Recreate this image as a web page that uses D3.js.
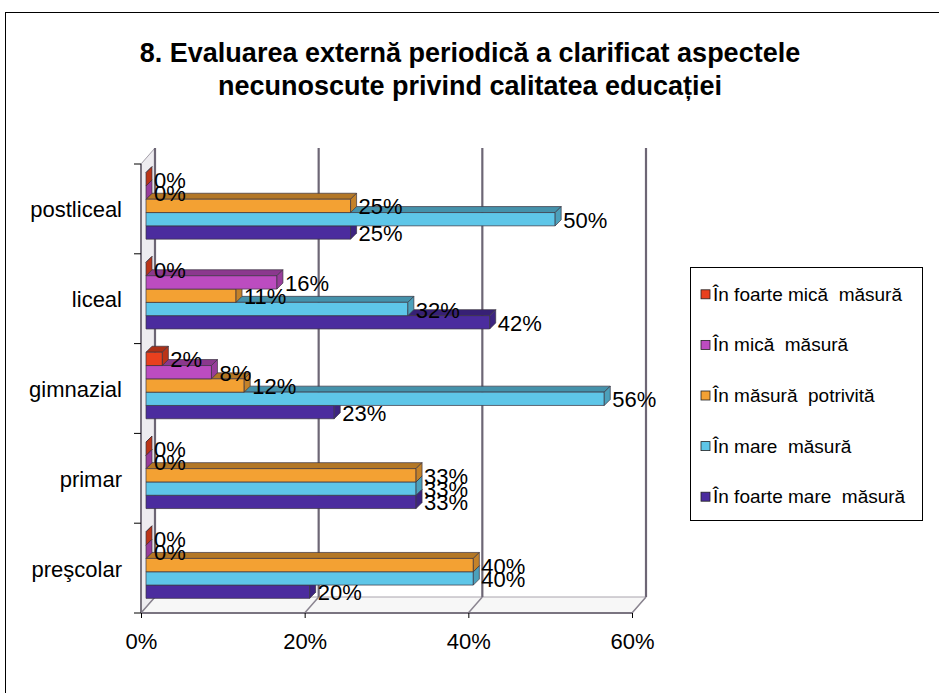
<!DOCTYPE html>
<html>
<head>
<meta charset="utf-8">
<script src="https://cdn.jsdelivr.net/npm/d3@7"></script>
<style>
  html, body { margin: 0; padding: 0; background: #fff; }
  svg { display: block; font-family: "Liberation Sans", Arial, sans-serif; }
  .legend text { white-space: pre; }
</style>
</head>
<body>
<svg id="chart" width="939" height="693"></svg>
<script>
// Categories (top to bottom on the vertical axis)
const categories = ["postliceal", "liceal", "gimnazial", "primar", "preşcolar"];

// Answer levels, in legend order
const seriesNames = [
  "În foarte mică  măsură",
  "În mică  măsură",
  "În măsură  potrivită",
  "În mare  măsură",
  "În foarte mare  măsură"
];

// Percent values per answer level, in category order
const foarteMica = [0, 0, 2, 0, 0];
const mica       = [0, 16, 8, 0, 0];
const potrivita  = [25, 11, 12, 33, 40];
const mare       = [50, 32, 56, 33, 40];
const foarteMare = [25, 42, 23, 33, 20];

const xTicks = [0, 20, 40, 60];

const titleLines = [
  "8. Evaluarea externă periodică a clarificat aspectele",
  "necunoscute privind calitatea educației"
];

const seriesValues = [foarteMica, mica, potrivita, mare, foarteMare];
const frontColors = ["#E8401E", "#BC4CC0", "#F3A133", "#5EC6E8", "#4B2C9E"];

const svg = d3.select("#chart");

// outer chart border
svg.append("rect")
  .attr("x", 5.5).attr("y", 12.5)
  .attr("width", 960).attr("height", 700)
  .attr("fill", "#fff").attr("stroke", "#000").attr("stroke-width", 1);

// title
svg.append("g").selectAll("text").data(titleLines).join("text")
  .attr("x", 470)
  .attr("y", (d, i) => 53 + i * 33)
  .attr("text-anchor", "middle")
  .attr("dominant-baseline", "central")
  .attr("font-size", 27)
  .attr("font-weight", "bold")
  .text(d => d);

// plot geometry
const pLeft = 141, pRight = 632, pTop = 164, pBottom = 613;
const wallDX = 14, wallDY = -16;   // depth of the 3D box
const barDX = 5, barDY = -3;       // bars sit slightly behind the front plane
const faceD = 6;                   // depth of each bar's top/end face

const x = d3.scaleLinear().domain([0, 60]).range([pLeft, pRight]);
const y = d3.scaleBand().domain(categories).range([pTop, pBottom]);
const yInner = d3.scaleBand().domain(seriesNames)
  .range([0, y.bandwidth()]).paddingOuter(0.875);

const gridColor = "#6d6675";

// left wall
svg.append("path")
  .attr("d", `M${pLeft},${pTop}L${pLeft + wallDX},${pTop + wallDY}L${pLeft + wallDX},${pBottom + wallDY}L${pLeft},${pBottom}Z`)
  .attr("fill", "#eeecf0").attr("stroke", "#a39ea8").attr("stroke-width", 1);

// floor
svg.append("path")
  .attr("d", `M${pLeft},${pBottom}L${pRight},${pBottom}L${pRight + wallDX},${pBottom + wallDY}L${pLeft + wallDX},${pBottom + wallDY}Z`)
  .attr("fill", "#f7f7f7").attr("stroke", "#a9a4ad").attr("stroke-width", 1);

// gridlines on the back wall and their floor diagonals
const grid = svg.append("g");
grid.selectAll("line.v").data(xTicks).join("line")
  .attr("class", "v")
  .attr("x1", d => x(d) + wallDX).attr("x2", d => x(d) + wallDX)
  .attr("y1", pTop + wallDY).attr("y2", pBottom + wallDY)
  .attr("stroke", gridColor).attr("stroke-width", 2.2);
grid.selectAll("line.d").data(xTicks).join("line")
  .attr("class", "d")
  .attr("x1", d => x(d) + wallDX).attr("x2", d => x(d))
  .attr("y1", pBottom + wallDY).attr("y2", pBottom)
  .attr("stroke", "#8a8490").attr("stroke-width", 1.5);

// bars
function shade(c, k) { return d3.color(c).darker(k).formatHex(); }

const bars = svg.append("g");
categories.forEach((cat, ci) => {
  // lower bars first so the bars above cover their top faces
  for (let si = seriesNames.length - 1; si >= 0; si--) {
    const v = seriesValues[si][ci];
    const x0 = x(0) + barDX, x1 = x(v) + barDX;
    const y0 = y(cat) + yInner(seriesNames[si]) + barDY;
    const h = yInner.bandwidth();
    const g = bars.append("g").attr("stroke", "#3a3340").attr("stroke-width", 0.7)
      .attr("stroke-linejoin", "round");
    // top face
    g.append("path")
      .attr("d", `M${x0},${y0}L${x0 + faceD},${y0 - faceD}L${x1 + faceD},${y0 - faceD}L${x1},${y0}Z`)
      .attr("fill", shade(frontColors[si], 0.85));
    // front face
    g.append("rect")
      .attr("x", x0).attr("y", y0)
      .attr("width", Math.max(0, x1 - x0)).attr("height", h)
      .attr("fill", frontColors[si]);
    // end face
    g.append("path")
      .attr("d", `M${x1},${y0}L${x1 + faceD},${y0 - faceD}L${x1 + faceD},${y0 + h - faceD}L${x1},${y0 + h}Z`)
      .attr("fill", shade(frontColors[si], 0.6));
  }
});

// value labels
const labels = svg.append("g").attr("font-size", 22).attr("fill", "#000");
categories.forEach((cat, ci) => {
  seriesNames.forEach((s, si) => {
    const v = seriesValues[si][ci];
    labels.append("text")
      .attr("x", x(v) + barDX + 8)
      .attr("y", y(cat) + yInner(s) + barDY + yInner.bandwidth() / 2 + 1)
      .attr("dominant-baseline", "central")
      .text(v + "%");
  });
});

// front axis lines
svg.append("line")
  .attr("x1", pLeft).attr("x2", pLeft).attr("y1", pTop).attr("y2", pBottom)
  .attr("stroke", "#7a7480").attr("stroke-width", 2);
svg.append("line")
  .attr("x1", pLeft).attr("x2", pRight).attr("y1", pBottom).attr("y2", pBottom)
  .attr("stroke", "#7a7480").attr("stroke-width", 2);

// category boundary ticks
const edges = categories.map(c => y(c)).concat([pBottom]);
svg.append("g").selectAll("line").data(edges).join("line")
  .attr("x1", pLeft - 7).attr("x2", pLeft)
  .attr("y1", d => d).attr("y2", d => d)
  .attr("stroke", "#000").attr("stroke-width", 1);

// category labels
const yAxis = svg.append("g")
  .attr("transform", `translate(${pLeft},0)`)
  .call(d3.axisLeft(y).tickSize(0).tickPadding(19));
yAxis.select(".domain").remove();
yAxis.selectAll("text")
  .attr("font-size", 22).attr("font-family", null).attr("fill", "#000")
  .attr("dy", null).attr("y", 1).attr("dominant-baseline", "central");

// value axis
const xAxis = svg.append("g")
  .attr("transform", `translate(0,${pBottom})`)
  .call(d3.axisBottom(x).tickValues(xTicks).tickSize(5).tickPadding(10).tickFormat(d => d + "%"));
xAxis.select(".domain").remove();
xAxis.selectAll("line").attr("stroke", "#000");
xAxis.selectAll("text")
  .attr("font-size", 22).attr("font-family", null).attr("fill", "#000")
  .attr("dy", null).attr("y", 28).attr("dominant-baseline", "central");

// legend
const legend = svg.append("g").attr("class", "legend");
legend.append("rect")
  .attr("x", 690.5).attr("y", 267.5).attr("width", 232).attr("height", 253)
  .attr("fill", "#fff").attr("stroke", "#000").attr("stroke-width", 1);
const ly = d3.scaleBand().domain(seriesNames).range([269, 522]);
const items = legend.selectAll("g.item").data(seriesNames).join("g")
  .attr("class", "item")
  .attr("transform", d => `translate(0,${ly(d) + ly.bandwidth() / 2})`);
items.append("rect")
  .attr("x", 701).attr("y", -4.5).attr("width", 9).attr("height", 9)
  .attr("fill", (d, i) => frontColors[i]).attr("stroke", "#222").attr("stroke-width", 0.8);
items.append("text")
  .attr("x", 713).attr("y", 0)
  .attr("dominant-baseline", "central")
  .attr("font-size", 19)
  .text(d => d);
</script>
</body>
</html>
